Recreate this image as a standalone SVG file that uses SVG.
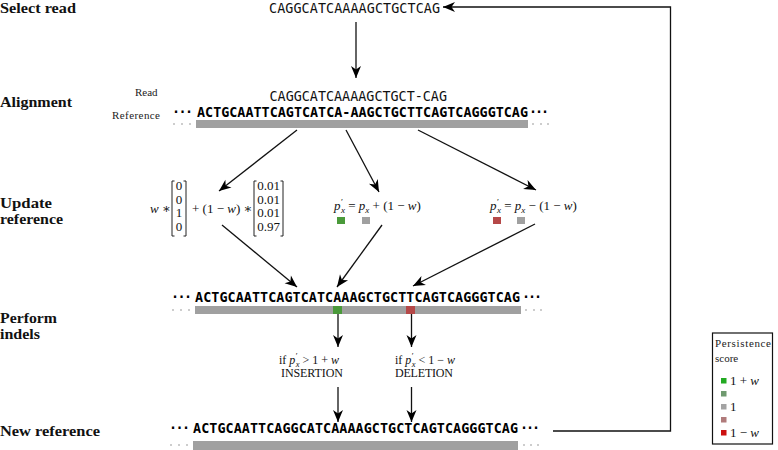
<svg xmlns="http://www.w3.org/2000/svg" width="778" height="450" viewBox="0 0 778 450">
<style>
.lbl{font-family:"Liberation Serif","DejaVu Serif",serif;font-weight:bold;font-size:14.5px;fill:#111}
.sm{font-family:"Liberation Serif","DejaVu Serif",serif;font-size:11px;fill:#222}
.seq{font-family:"DejaVu Sans Mono",monospace;font-size:13.4px;fill:#111}
.bs{font-weight:bold;fill:#000}
.m{font-family:"Liberation Serif","DejaVu Serif",serif;font-size:13px;fill:#111}
.mi{font-style:italic}
.cond{font-family:"Liberation Serif","DejaVu Serif",serif;font-size:12px;fill:#111}
.bar{fill:#a0a0a0}
.gd{fill:#bdbdbd}
.ln{stroke:#111;stroke-width:1.3;fill:none}
.br{stroke:#222;stroke-width:1;fill:none}
</style>
<defs>
<marker id="ah" viewBox="-13 -6 14 12" refX="0" refY="0" markerWidth="14" markerHeight="12" markerUnits="userSpaceOnUse" orient="auto">
<path d="M0,0 L-12,-5 L-8.5,0 L-12,5 Z" fill="#000"/>
</marker>
</defs>
<rect width="778" height="450" fill="#fff"/>

<g id="row-labels">
<text class="lbl" x="0" y="13" textLength="76" lengthAdjust="spacingAndGlyphs">Select read</text>
<text class="lbl" x="0" y="107" textLength="72" lengthAdjust="spacingAndGlyphs">Alignment</text>
<text class="lbl" x="0" y="208" textLength="52" lengthAdjust="spacingAndGlyphs">Update</text>
<text class="lbl" x="0" y="224" textLength="63" lengthAdjust="spacingAndGlyphs">reference</text>
<text class="lbl" x="0" y="323" textLength="57" lengthAdjust="spacingAndGlyphs">Perform</text>
<text class="lbl" x="0" y="339" textLength="40" lengthAdjust="spacingAndGlyphs">indels</text>
<text class="lbl" x="0" y="436" textLength="100" lengthAdjust="spacingAndGlyphs">New reference</text>
</g>

<g id="selected-read">
<text class="seq" x="269" y="13" textLength="171">CAGGCATCAAAAGCTGCTCAG</text>
</g>

<g id="alignment">
<text class="sm" x="135" y="96">Read</text>
<text class="sm" x="112" y="119" textLength="48">Reference</text>
<text class="seq" x="269.5" y="101" textLength="177.5">CAGGCATCAAAAGCTGCT-CAG</text>
<text class="seq bs" x="172" y="117" textLength="21">···</text>
<text class="seq bs" x="197" y="117" textLength="331">ACTGCAATTCAGTCATCA-AAGCTGCTTCAGTCAGGGTCAG</text>
<text class="seq bs" x="529" y="117" textLength="20">···</text>
<rect class="bar" x="196" y="120" width="332" height="8"/>
<circle class="gd" cx="174" cy="124" r="1"/><circle class="gd" cx="182" cy="124" r="1"/><circle class="gd" cx="190" cy="124" r="1"/>
<circle class="gd" cx="533" cy="124" r="1"/><circle class="gd" cx="541" cy="124" r="1"/><circle class="gd" cx="548" cy="124" r="1"/>
</g>

<g id="update-mismatch">
<text class="m" x="150" y="213"><tspan class="mi">w</tspan> ∗</text>
<path class="br" d="M174.5,181 H172 V236 H174.5 M183.5,181 H186 V236 H183.5"/>
<text class="m" font-size="12" text-anchor="middle"><tspan x="179" y="190">0</tspan><tspan x="179" y="203.5">0</tspan><tspan x="179" y="217">1</tspan><tspan x="179" y="231">0</tspan></text>
<text class="m" x="192" y="213">+ (1 − <tspan class="mi">w</tspan>) ∗</text>
<path class="br" d="M256.5,181 H254 V236 H256.5 M280.5,181 H283 V236 H280.5"/>
<text class="m" font-size="12" text-anchor="middle"><tspan x="268.5" y="190">0.01</tspan><tspan x="268.5" y="203.5">0.01</tspan><tspan x="268.5" y="217">0.01</tspan><tspan x="268.5" y="231">0.97</tspan></text>
</g>

<g id="update-insertion">
<text class="m" x="334" y="210"><tspan class="mi">p</tspan><tspan font-size="9" dx="0.5" dy="-5">′</tspan><tspan class="mi" font-size="9" dx="-2" dy="8">x</tspan><tspan dy="-3"> = </tspan><tspan class="mi">p</tspan><tspan class="mi" font-size="9" dy="3">x</tspan><tspan dy="-3"> + (1 − </tspan><tspan class="mi">w</tspan>)</text>
<rect x="337" y="217" width="8" height="7" fill="#4a9a3a"/>
<rect x="362" y="217" width="8" height="7" fill="#a0a0a0"/>
</g>

<g id="update-deletion">
<text class="m" x="490" y="210"><tspan class="mi">p</tspan><tspan font-size="9" dx="0.5" dy="-5">′</tspan><tspan class="mi" font-size="9" dx="-2" dy="8">x</tspan><tspan dy="-3"> = </tspan><tspan class="mi">p</tspan><tspan class="mi" font-size="9" dy="3">x</tspan><tspan dy="-3"> − (1 − </tspan><tspan class="mi">w</tspan>)</text>
<rect x="493" y="217" width="8" height="7" fill="#b54848"/>
<rect x="517" y="217" width="8" height="7" fill="#a0a0a0"/>
</g>

<g id="perform-indels">
<text class="seq bs" x="171" y="302" textLength="21">···</text>
<text class="seq bs" x="195" y="302" textLength="325">ACTGCAATTCAGTCATCAAAGCTGCTTCAGTCAGGGTCAG</text>
<text class="seq bs" x="522" y="302" textLength="20">···</text>
<rect class="bar" x="195" y="306" width="326" height="8"/>
<rect x="333" y="306" width="9" height="8" fill="#4a9a3a"/>
<rect x="406" y="306" width="9" height="8" fill="#b54848"/>
<circle class="gd" cx="173" cy="310" r="1"/><circle class="gd" cx="181" cy="310" r="1"/><circle class="gd" cx="189" cy="310" r="1"/>
<circle class="gd" cx="526" cy="310" r="1"/><circle class="gd" cx="534" cy="310" r="1"/><circle class="gd" cx="541" cy="310" r="1"/>
</g>

<g id="insertion-condition">
<text class="cond" x="279" y="364">if <tspan class="mi">p</tspan><tspan font-size="8.5" dx="0.5" dy="-5">′</tspan><tspan class="mi" font-size="8.5" dx="-2" dy="8">x</tspan><tspan dy="-3"> &gt; 1 + </tspan><tspan class="mi">w</tspan></text>
<text class="cond" x="281" y="377" textLength="62">INSERTION</text>
</g>

<g id="deletion-condition">
<text class="cond" x="395" y="364">if <tspan class="mi">p</tspan><tspan font-size="8.5" dx="0.5" dy="-5">′</tspan><tspan class="mi" font-size="8.5" dx="-2" dy="8">x</tspan><tspan dy="-3"> &lt; 1 − </tspan><tspan class="mi">w</tspan></text>
<text class="cond" x="395" y="377" textLength="58">DELETION</text>
</g>

<g id="new-reference">
<text class="seq bs" x="169" y="433" textLength="21">···</text>
<text class="seq bs" x="193" y="433" textLength="325">ACTGCAATTCAGGCATCAAAAGCTGCTCAGTCAGGGTCAG</text>
<text class="seq bs" x="520" y="433" textLength="20">···</text>
<rect class="bar" x="193" y="441" width="325" height="9"/>
<circle class="gd" cx="171" cy="445" r="1"/><circle class="gd" cx="179" cy="445" r="1"/><circle class="gd" cx="187" cy="445" r="1"/>
<circle class="gd" cx="524" cy="445" r="1"/><circle class="gd" cx="531" cy="445" r="1"/><circle class="gd" cx="538" cy="445" r="1"/>
</g>

<g id="legend">
<rect x="712.5" y="333" width="60" height="111" fill="#fff" stroke="#111" stroke-width="1.2"/>
<text class="sm" x="715" y="347" textLength="56">Persistence</text>
<text class="sm" x="715" y="362">score</text>
<rect x="721" y="378" width="5.5" height="5.5" fill="#22aa22"/>
<rect x="721" y="391" width="5.5" height="5.5" fill="#6f9a6f"/>
<rect x="721" y="404" width="5.5" height="5.5" fill="#a3a3a3"/>
<rect x="721" y="417" width="5.5" height="5.5" fill="#b07b7b"/>
<rect x="721" y="430" width="5.5" height="5.5" fill="#cc1111"/>
<text class="m" x="730" y="385">1 + <tspan class="mi">w</tspan></text>
<text class="m" x="730" y="411">1</text>
<text class="m" x="730" y="437">1 − <tspan class="mi">w</tspan></text>
</g>

<g id="connectors">
<line class="ln" x1="356" y1="22" x2="356" y2="78" marker-end="url(#ah)"/>
<line class="ln" x1="297" y1="130" x2="219" y2="191" marker-end="url(#ah)"/>
<line class="ln" x1="346" y1="130" x2="379" y2="192" marker-end="url(#ah)"/>
<line class="ln" x1="418" y1="130" x2="536" y2="190" marker-end="url(#ah)"/>
<line class="ln" x1="222" y1="225" x2="297" y2="287" marker-end="url(#ah)"/>
<line class="ln" x1="382" y1="225" x2="337" y2="287" marker-end="url(#ah)"/>
<line class="ln" x1="535" y1="224" x2="413" y2="286" marker-end="url(#ah)"/>
<line class="ln" x1="338" y1="314" x2="338" y2="347" marker-end="url(#ah)"/>
<line class="ln" x1="411.5" y1="314" x2="411.5" y2="347" marker-end="url(#ah)"/>
<line class="ln" x1="338" y1="387" x2="338" y2="422" marker-end="url(#ah)"/>
<line class="ln" x1="411.5" y1="387" x2="411.5" y2="422" marker-end="url(#ah)"/>
<path class="ln" d="M553,431 H670.5 V7 H443" marker-end="url(#ah)"/>
</g>
</svg>
